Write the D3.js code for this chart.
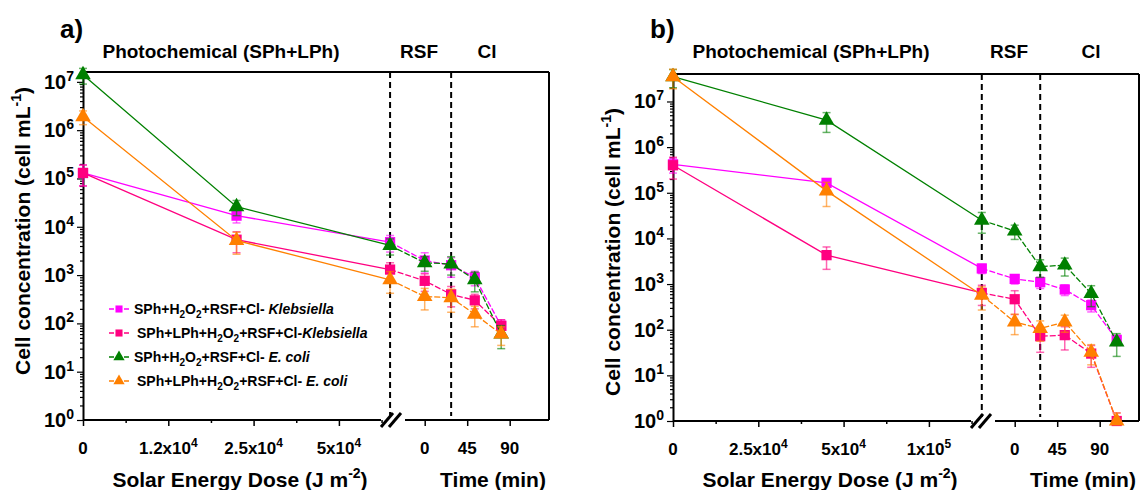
<!DOCTYPE html>
<html>
<head>
<meta charset="utf-8">
<script src="https://cdn.jsdelivr.net/npm/d3@7"></script>
<style>
body { margin: 0; background: #fff; }
svg text { font-family: "Liberation Sans", Arial, sans-serif; font-weight: bold; fill: #000; }
</style>
</head>
<body>
<svg id="chart" width="1146" height="490"></svg>
<script>
// ---- data ----
var decadeTicks = [1e0, 1e1, 1e2, 1e3, 1e4, 1e5, 1e6, 1e7];
var timeTicks = [0, 45, 90];

// panel a
var doseTicksA = [0, 1.2e4, 2.5e4, 5e4];
var doseTickLabelsA = [["0", ""], ["1.2x10", "4"], ["2.5x10", "4"], ["5x10", "4"]];
var doseA = [0, 2.24e4, 6.5e4];
var timeA = [0, 28, 53, 81];
var klebSPhA = [1.3e5, 1.7e4, 4.8e3, 2.0e3, 1.6e3, 900, 89];
var klebLPhA = [1.3e5, 5.4e3, 1.3e3, 760, 400, 300, 89];
var coliSPhA = [1.4e7, 2.6e4, 4.1e3, 1.8e3, 1.7e3, 800, 60];
var coliLPhA = [1.9e6, 5.2e3, 800, 360, 340, 155, 60];
var klebSPhErrA = [6e4, 5e3, 1.8e3, 900, 700, 300, 30];
var klebLPhErrA = [6e4, 2.5e3, 500, 300, 180, 100, 30];
var coliSPhErrA = [5e6, 9e3, 1.5e3, 600, 700, 350, 30];
var coliLPhErrA = [6e5, 2.5e3, 380, 170, 170, 70, 25];

// panel b
var doseTicksB = [0, 2.5e4, 5e4, 1e5];
var doseTickLabelsB = [["0", ""], ["2.5x10", "4"], ["5x10", "4"], ["1x10", "5"]];
var doseB = [0, 4.5e4, 1.31e5];
var timeB = [0, 27, 53, 81, 108];
var klebSPhB = [4.2e5, 1.65e5, 2.2e3, 1.3e3, 1.1e3, 760, 345, 60];
var klebLPhB = [4.0e5, 4.3e3, 640, 465, 72, 76, 30, 1];
var coliSPhB = [3.5e7, 3.9e6, 2.5e4, 1.45e4, 2.4e3, 2.6e3, 620, 54];
var coliLPhB = [3.5e7, 1.1e5, 570, 148, 106, 148, 32, 1];
var klebSPhErrB = [1.5e5, 3e4, 500, 300, 300, 200, 100, 15];
var klebLPhErrB = [2e5, 2.2e3, 300, 250, 40, 40, 15, 0.5];
var coliSPhErrB = [1.5e7, 1.8e6, 1.2e4, 5e3, 1e3, 1.1e3, 300, 28];
var coliLPhErrB = [1.6e7, 6e4, 300, 70, 50, 60, 15, 0.5];

var legendLabels = [
	[["SPh+H"], ["2", "sub"], ["O"], ["2", "sub"], ["+RSF+Cl- "], ["Klebsiella", "it"]],
	[["SPh+LPh+H"], ["2", "sub"], ["O"], ["2", "sub"], ["+RSF+Cl-"], ["Klebsiella", "it"]],
	[["SPh+H"], ["2", "sub"], ["O"], ["2", "sub"], ["+RSF+Cl- "], ["E. coli", "it"]],
	[["SPh+LPh+H"], ["2", "sub"], ["O"], ["2", "sub"], ["+RSF+Cl- "], ["E. coli", "it"]]
];
var colors = ["#ff00ff", "#ff0080", "#008000", "#ff8000"];
var shapes = [d3.symbolSquare, d3.symbolSquare, d3.symbolTriangle, d3.symbolTriangle];

// ---- layout ----
var svg = d3.select("#chart");

var panels = [
	{ letter: "a)", left: 83, top: 72, width: 466, bottom: 420, yMax: 1.6e7,
	  doseTicks: doseTicksA, doseLabels: doseTickLabelsA, dose: doseA, time: timeA,
	  values: [klebSPhA, klebLPhA, coliSPhA, coliLPhA], errs: [klebSPhErrA, klebLPhErrA, coliSPhErrA, coliLPhErrA],
	  clX: 404, yTitleY: 231, legend: true },
	{ letter: "b)", left: 673, top: 74, width: 466, bottom: 421, yMax: 4e7,
	  doseTicks: doseTicksB, doseLabels: doseTickLabelsB, dose: doseB, time: timeB,
	  values: [klebSPhB, klebLPhB, coliSPhB, coliLPhB], errs: [klebSPhErrB, klebLPhErrB, coliSPhErrB, coliLPhErrB],
	  clX: 418, yTitleY: 252, legend: false }
];

// parts: [text, kind] with kind "sub", "sup", "it" or nothing
function richText(sel, parts, size){
	var cur = 0;
	parts.forEach(function(p){
		var t = sel.append("tspan").text(p[0]);
		var target = 0;
		if(p[1] == "sub"){
			target = Math.round(size*0.25);
			t.attr("font-size", Math.round(size*0.68));
		}else if(p[1] == "sup"){
			target = -Math.round(size*0.42);
			t.attr("font-size", Math.round(size*0.68));
		}else if(p[1] == "it"){
			t.style("font-style", "italic");
		}
		if(target != cur) t.attr("dy", target - cur);
		cur = target;
	});
}

function drawPanel(p){
	var g = svg.append("g");
	var L = p.left, R = p.left + p.width, T = p.top, B = p.bottom;
	var step = 85.3;

	var xDose = d3.scaleLinear().domain(p.doseTicks).range(p.doseTicks.map(function(d, i){ return L + i*step; }));
	var xTime = d3.scaleLinear().domain([0, 90]).range([L + 341.7, L + 426.7]);
	var y = d3.scaleLog().domain([1, p.yMax]).range([B, T]);

	// frame
	g.append("line").attr("x1", L).attr("x2", R).attr("y1", T).attr("y2", T).attr("stroke", "#000").attr("stroke-width", 2);
	g.append("line").attr("x1", R).attr("x2", R).attr("y1", T).attr("y2", B).attr("stroke", "#000").attr("stroke-width", 2);
	g.append("line").attr("x1", L).attr("x2", L + 298).attr("y1", B).attr("y2", B).attr("stroke", "#000").attr("stroke-width", 2);
	g.append("line").attr("x1", L + 322).attr("x2", R).attr("y1", B).attr("y2", B).attr("stroke", "#000").attr("stroke-width", 2);

	// break mark
	[-4, 4].forEach(function(dx){
		g.append("line")
			.attr("x1", L + 308 + dx - 6).attr("y1", B + 7)
			.attr("x2", L + 308 + dx + 6).attr("y2", B - 7)
			.attr("stroke", "#000").attr("stroke-width", 3);
	});

	// x ticks
	var xg = g.append("g").attr("transform", "translate(0," + B + ")");
	xg.call(d3.axisBottom(xDose).tickValues(p.doseTicks).tickSize(6).tickFormat(""));
	var minorPix = d3.pairs(xDose.range()).map(function(q){ return (q[0] + q[1])/2; });
	minorPix.push(xDose.range()[xDose.range().length - 1] + step/2);
	xg.append("g").call(d3.axisBottom(xDose).tickValues(minorPix.map(xDose.invert)).tickSize(3).tickFormat(""));
	xg.append("g").call(d3.axisBottom(xTime).tickValues(timeTicks).tickSize(6).tickFormat(""));
	xg.selectAll(".domain").remove();
	xg.selectAll(".tick line").attr("stroke-width", 1.5);
	xg.selectAll(".tick text").remove();

	p.doseTicks.forEach(function(v, i){
		var lab = p.doseLabels[i];
		var t = g.append("text").attr("x", xDose(v)).attr("y", B + 34).attr("text-anchor", "middle").attr("font-size", 17);
		richText(t, lab[1] ? [[lab[0]], [lab[1], "sup"]] : [[lab[0]]], 17);
	});
	timeTicks.forEach(function(v){
		g.append("text").attr("x", xTime(v)).attr("y", B + 34).attr("text-anchor", "middle").attr("font-size", 17).text(v);
	});

	// y axis
	var yg = g.append("g").attr("transform", "translate(" + L + ",0)");
	yg.call(d3.axisLeft(y).tickValues(decadeTicks).tickSize(6).tickSizeOuter(0).tickFormat(""));
	var minors = y.ticks().filter(function(v){ return decadeTicks.indexOf(v) < 0; });
	yg.append("g").call(d3.axisLeft(y).tickValues(minors).tickSize(3).tickFormat(""))
		.select(".domain").remove();
	yg.select(".domain").attr("stroke-width", 2);
	yg.selectAll(".tick line").attr("stroke-width", 1.2);
	yg.selectAll(".tick text").remove();

	decadeTicks.forEach(function(v){
		var t = g.append("text").attr("x", L - 9).attr("y", y(v) + 7).attr("text-anchor", "end").attr("font-size", 20);
		richText(t, [["10"], [String(Math.round(Math.log10(v))), "sup"]], 20);
	});

	// dashed separators
	var sep1 = xDose(p.dose[2]), sep2 = xTime(p.time[1]);
	[sep1, sep2].forEach(function(sx){
		g.append("line").attr("x1", sx).attr("x2", sx).attr("y1", T).attr("y2", B - 4)
			.attr("stroke", "#000").attr("stroke-width", 2).attr("stroke-dasharray", "6,4");
	});

	// titles
	g.append("text").attr("x", L - 23).attr("y", 38).attr("font-size", 26).text(p.letter);
	g.append("text").attr("x", L + 138).attr("y", 58).attr("text-anchor", "middle").attr("font-size", 19).text("Photochemical (SPh+LPh)");
	g.append("text").attr("x", L + 336).attr("y", 58).attr("text-anchor", "middle").attr("font-size", 19).text("RSF");
	g.append("text").attr("x", L + p.clX).attr("y", 58).attr("text-anchor", "middle").attr("font-size", 19).text("Cl");

	var xt1 = g.append("text").attr("x", L + 157).attr("y", 487).attr("text-anchor", "middle").attr("font-size", 21);
	richText(xt1, [["Solar Energy Dose (J m"], ["-2", "sup"], [")"]], 21);
	g.append("text").attr("x", L + 410).attr("y", 487).attr("text-anchor", "middle").attr("font-size", 21).text("Time (min)");

	var yt = g.append("text").attr("transform", "translate(" + (L - 53) + "," + p.yTitleY + ") rotate(-90)")
		.attr("text-anchor", "middle").attr("font-size", 21);
	richText(yt, [["Cell concentration (cell mL"], ["-1", "sup"], [")"]], 21);

	// series
	var xs = p.dose.map(function(d){ return xDose(d); }).concat(p.time.map(function(t){ return xTime(t); }));
	var line = d3.line().x(function(d){ return d.x; }).y(function(d){ return d.y; });

	p.values.forEach(function(vals, si){
		var pts = vals.map(function(v, i){ return { x: xs[i], y: y(v), v: v, e: p.errs[si][i] }; });
		var col = colors[si];
		g.append("path").attr("d", line(pts.slice(0, 3))).attr("fill", "none").attr("stroke", col).attr("stroke-width", 1.3);
		g.append("path").attr("d", line(pts.slice(2))).attr("fill", "none").attr("stroke", col).attr("stroke-width", 1.3)
			.attr("stroke-dasharray", "6,2");

		g.selectAll(null).data(pts).enter().append("path")
			.attr("transform", function(d){ return "translate(" + d.x + "," + d.y + ")"; })
			.attr("d", d3.symbol().type(shapes[si]).size(si < 2 ? 105 : 105))
			.attr("fill", col);

		var eb = g.append("g").attr("stroke", col).attr("stroke-opacity", 0.6).attr("stroke-width", 1.5);
		pts.forEach(function(d){
			var y1 = y(d.v + d.e), y2 = y(Math.max(d.v - d.e, 1));
			eb.append("line").attr("x1", d.x).attr("x2", d.x).attr("y1", y1).attr("y2", y2);
			eb.append("line").attr("x1", d.x - 4).attr("x2", d.x + 4).attr("y1", y1).attr("y2", y1);
			eb.append("line").attr("x1", d.x - 4).attr("x2", d.x + 4).attr("y1", y2).attr("y2", y2);
		});
	});

	// legend
	if(p.legend){
		legendLabels.forEach(function(lab, i){
			var ly = 309 + i*24, lx = 119;
			g.append("line").attr("x1", lx - 10).attr("x2", lx + 10).attr("y1", ly).attr("y2", ly)
				.attr("stroke", colors[i]).attr("stroke-width", 1.5).attr("stroke-dasharray", "5,10,5");
			g.append("path").attr("transform", "translate(" + lx + "," + ly + ")")
				.attr("d", d3.symbol().type(shapes[i]).size(i < 2 ? 50 : 55)).attr("fill", colors[i]);
			var t = g.append("text").attr("x", lx + 15 + (i % 2)*3).attr("y", ly + 5).attr("font-size", 14);
			richText(t, lab, 14);
		});
	}
}

panels.forEach(drawPanel);
</script>
</body>
</html>
